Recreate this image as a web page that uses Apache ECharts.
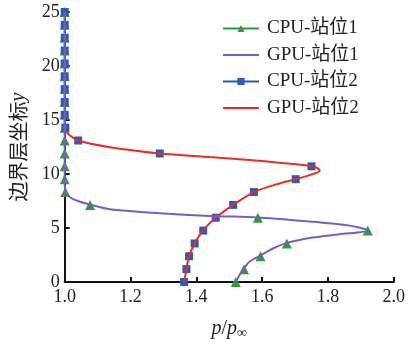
<!DOCTYPE html>
<html><head><meta charset="utf-8">
<script src="https://cdn.jsdelivr.net/npm/echarts@6/dist/echarts.min.js"></script>
<style>html,body{margin:0;padding:0;background:#fff}#c{width:408px;height:345px}</style>
</head><body><div id="c"></div>
<script>
var seriesNames = ['CPU-站位1', 'GPU-站位1', 'CPU-站位2', 'GPU-站位2'];
var xTicks = [1.0, 1.2, 1.4, 1.6, 1.8, 2.0];
var yTicks = [0, 5, 10, 15, 20, 25];

var cpuY = [0, 1.19, 2.38, 3.57, 4.76, 5.95, 7.14, 8.33, 9.52, 10.71, 11.9, 13.1, 14.29, 15.48, 16.67, 17.86, 19.05, 20.24, 21.43, 22.62, 23.81, 25];
var cpu1X = [1.52, 1.545, 1.595, 1.675, 1.921, 1.587, 1.077, 1.002, 1.0, 1.0, 1.0, 1.0, 1.0, 1.0, 1.0, 1.0, 1.0, 1.0, 1.0, 1.0, 1.0, 1.0];
var cpu2X = [1.363, 1.370, 1.378, 1.395, 1.421, 1.459, 1.512, 1.575, 1.702, 1.750, 1.289, 1.041, 1.002, 1.0, 1.0, 1.0, 1.0, 1.0, 1.0, 1.0, 1.0, 1.0];

var gpu1X = [1.52, 1.532, 1.545, 1.562, 1.595, 1.633, 1.675, 1.754, 1.835, 1.921, 1.866, 1.765, 1.664, 1.587, 1.441, 1.289, 1.138, 1.077, 1.04, 1.016, 1.004, 1.0, 1.0];
var gpu1Y = [0, 0.68, 1.25, 1.89, 2.45, 3.10, 3.62, 4.12, 4.42, 4.78, 5.22, 5.55, 5.8, 5.98, 6.12, 6.37, 6.73, 7.17, 7.5, 7.85, 8.3, 9.0, 25];

var gpu2X = [1.363, 1.370, 1.378, 1.395, 1.421, 1.459, 1.512, 1.575, 1.65, 1.702, 1.744, 1.775, 1.765, 1.75, 1.65, 1.562, 1.441, 1.289, 1.138, 1.041, 1.006, 1.0, 1.0];
var gpu2Y = [0, 1.2, 2.4, 3.56, 4.8, 5.94, 7.14, 8.33, 9.1, 9.52, 9.9, 10.3, 10.6, 10.73, 11.05, 11.3, 11.57, 11.9, 12.48, 13.1, 13.84, 14.3, 25];

function pairs(xs, ys) { return xs.map(function (x, i) { return [x, ys[i]]; }); }

var GREEN = '#2f9a3e', PURPLE = '#7a5cc4', BLUE = '#2a5bb8', RED = '#ec2b25';
var FONT = '"Liberation Serif", "Times New Roman", "Noto Sans CJK SC", serif';

var chart = echarts.init(document.getElementById('c'), null, {renderer: 'canvas'});
chart.setOption({
  animation: false,
  backgroundColor: '#fff',
  grid: {left: 64.7, right: 13.7, top: 12, bottom: 57.5, containLabel: false},
  legend: {
    left: 217, top: 14, orient: 'vertical',
    itemWidth: 36, itemHeight: 9, itemGap: 7.5,
    textStyle: {fontFamily: FONT, fontSize: 19, color: '#222', padding: [0, 0, 0, 3]},
    data: [
      {name: seriesNames[0], lineStyle: {color: GREEN, width: 2, opacity: 1}},
      {name: seriesNames[1], lineStyle: {color: PURPLE, width: 2, opacity: 1}, itemStyle: {opacity: 0}},
      {name: seriesNames[2], lineStyle: {color: BLUE, width: 2, opacity: 1}},
      {name: seriesNames[3], lineStyle: {color: RED, width: 2, opacity: 1}, itemStyle: {opacity: 0}}
    ]
  },
  xAxis: {
    type: 'value', min: xTicks[0], max: xTicks[xTicks.length - 1], interval: 0.2,
    axisLine: {show: true, onZero: false, lineStyle: {color: '#111', width: 2}},
    axisTick: {show: true, inside: true, length: 5, lineStyle: {color: '#111', width: 2}},
    splitLine: {show: false},
    axisLabel: {margin: 6, fontFamily: FONT, fontSize: 18, color: '#222', formatter: function (v) { return v.toFixed(1); }},
    name: '{i|p}{n|/}{i|p}{s|∞}', nameLocation: 'middle', nameGap: 36,
    nameTextStyle: {
      rich: {
        i: {fontFamily: FONT, fontStyle: 'italic', fontSize: 20, color: '#222'},
        n: {fontFamily: FONT, fontSize: 20, color: '#222'},
        s: {fontFamily: FONT, fontSize: 14, color: '#222', verticalAlign: 'bottom', padding: [8, 0, 0, 0]}
      }
    }
  },
  yAxis: {
    type: 'value', min: yTicks[0], max: yTicks[yTicks.length - 1], interval: 5,
    axisLine: {show: true, onZero: false, lineStyle: {color: '#111', width: 2}},
    axisTick: {show: true, inside: true, length: 5, lineStyle: {color: '#111', width: 2}},
    splitLine: {show: false},
    axisLabel: {margin: 5, fontFamily: FONT, fontSize: 18, color: '#222'},
    name: '{c|边界层坐标}{i|y}', nameLocation: 'middle', nameGap: 36, nameRotate: 90,
    nameTextStyle: {
      rich: {
        c: {fontFamily: '"Noto Sans CJK SC", serif', fontSize: 20, color: '#222'},
        i: {fontFamily: FONT, fontStyle: 'italic', fontSize: 20, color: '#222'}
      }
    }
  },
  series: [
    {name: seriesNames[0], type: 'line', data: pairs(cpu1X, cpuY), z: 2,
     symbol: 'triangle', symbolSize: 10, showAllSymbol: true,
     itemStyle: {color: GREEN}, lineStyle: {color: GREEN, width: 0, opacity: 0}},
    {name: seriesNames[2], type: 'line', data: pairs(cpu2X, cpuY), z: 2,
     symbol: 'rect', symbolSize: 8, showAllSymbol: true,
     itemStyle: {color: BLUE}, lineStyle: {color: BLUE, width: 0, opacity: 0}},
    {name: seriesNames[3], type: 'line', data: pairs(gpu2X, gpu2Y), z: 3,
     showSymbol: false, symbol: 'none', smooth: 0.3,
     itemStyle: {color: RED}, lineStyle: {color: RED, width: 2}},
    {name: seriesNames[1], type: 'line', data: pairs(gpu1X, gpu1Y), z: 4,
     showSymbol: false, symbol: 'none', smooth: 0.3,
     itemStyle: {color: PURPLE}, lineStyle: {color: PURPLE, width: 2}}
  ]
});
</script></body></html>
